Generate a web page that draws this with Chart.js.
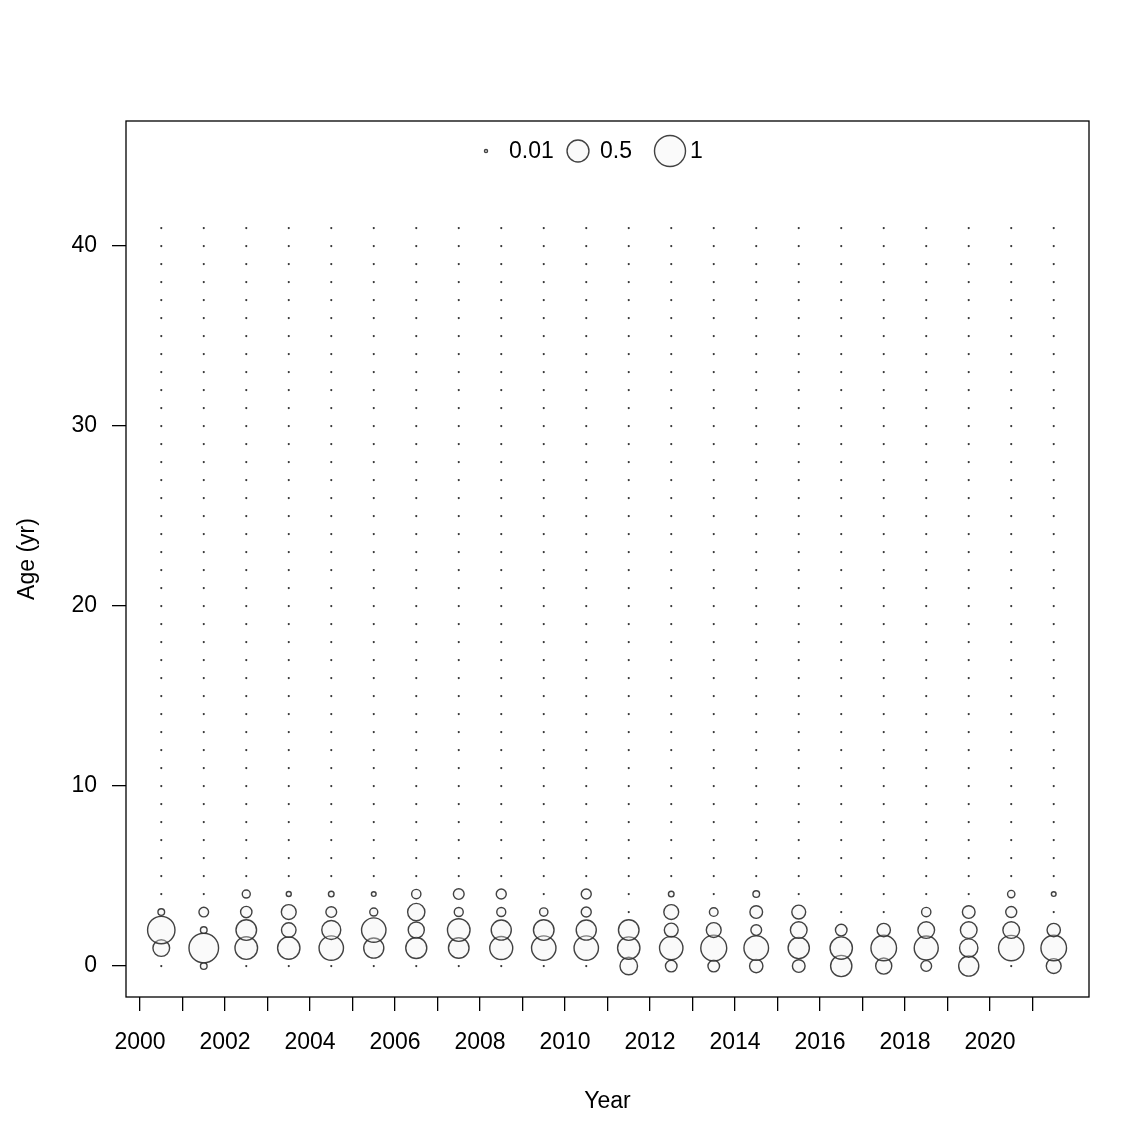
<!DOCTYPE html>
<html>
<head>
<meta charset="utf-8">
<script src="https://cdn.jsdelivr.net/npm/chart.js@4/dist/chart.umd.min.js"></script>
<style>
  html, body { margin: 0; padding: 0; background: #fff; }
  canvas { display: block; }
</style>
</head>
<body>
<canvas id="bubbles" width="1137" height="1139"></canvas>
<script>
const years = [2000, 2001, 2002, 2003, 2004, 2005, 2006, 2007, 2008, 2009, 2010,
               2011, 2012, 2013, 2014, 2015, 2016, 2017, 2018, 2019, 2020, 2021];
const propAge0 = [0, 0.046, 0, 0, 0, 0, 0, 0, 0, 0, 0,
                  0.32, 0.14, 0.14, 0.185, 0.167, 0.47, 0.27, 0.12, 0.42, 0, 0.23];
const propAge1 = [0.29, 0.91, 0.53, 0.52, 0.62, 0.42, 0.46, 0.44, 0.55, 0.62, 0.62,
                  0.52, 0.57, 0.70, 0.63, 0.47, 0.52, 0.68, 0.60, 0.35, 0.67, 0.68];
const propAge2 = [0.78, 0.046, 0.44, 0.22, 0.375, 0.62, 0.27, 0.53, 0.42, 0.44, 0.42,
                  0.44, 0.20, 0.23, 0.12, 0.29, 0.14, 0.185, 0.29, 0.29, 0.29, 0.185];
const propAge3 = [0.046, 0.097, 0.134, 0.23, 0.12, 0.067, 0.31, 0.084, 0.084, 0.072, 0.104,
                  0, 0.23, 0.078, 0.167, 0.20, 0, 0, 0.09, 0.167, 0.126, 0];
const propAge4 = [0, 0, 0.067, 0.026, 0.033, 0.023, 0.09, 0.12, 0.104, 0, 0.104,
                  0, 0.033, 0, 0.046, 0, 0, 0, 0, 0, 0.056, 0.023];
const maxAge = 41;
const legendValues = [0.01, 0.5, 1];
const xTicks = [2000, 2001, 2002, 2003, 2004, 2005, 2006, 2007, 2008, 2009, 2010,
                2011, 2012, 2013, 2014, 2015, 2016, 2017, 2018, 2019, 2020, 2021];
const yTicks = [0, 10, 20, 30, 40];

const FONT = '"Liberation Sans", Arial, sans-serif';
const byAge = [propAge0, propAge1, propAge2, propAge3, propAge4];
const RING = 'rgba(45,45,45,0.9)';
const FILL = 'rgba(240,240,240,0.35)';

// bubble radius ~ sqrt(proportion)
const radiusOf = v => 15.5 * Math.sqrt(v);

const bubbles = [];
const zeros = [];
years.forEach((yr, i) => {
  for (let a = 0; a <= maxAge; a++) {
    const v = a < byAge.length ? byAge[a][i] : 0;
    if (v > 0) bubbles.push({ x: yr + 0.5, y: a, v: v });
    else zeros.push({ x: yr + 0.5, y: a });
  }
});

const boxPlugin = {
  id: 'box',
  afterDraw(chart) {
    const { ctx, chartArea: c } = chart;
    ctx.save();
    ctx.strokeStyle = '#000';
    ctx.lineWidth = 1.3;
    ctx.strokeRect(c.left, c.top, c.right - c.left, c.bottom - c.top);

    // size legend at the top of the panel
    const cy = 151;
    const items = [{ x: 486, tx: 509 }, { x: 578, tx: 600 }, { x: 670, tx: 690 }];
    ctx.font = '23px ' + FONT;
    ctx.textBaseline = 'middle';
    ctx.textAlign = 'left';
    legendValues.forEach((v, k) => {
      ctx.beginPath();
      ctx.arc(items[k].x, cy, radiusOf(v), 0, Math.PI * 2);
      ctx.fillStyle = FILL;
      ctx.fill();
      ctx.strokeStyle = RING;
      ctx.lineWidth = 1.4;
      ctx.stroke();
      ctx.fillStyle = '#000';
      ctx.fillText(String(v), items[k].tx, cy + 1);
    });
    ctx.restore();
  }
};

new Chart(document.getElementById('bubbles'), {
  type: 'scatter',
  data: {
    datasets: [
      {
        label: 'zero',
        data: zeros,
        pointRadius: 1.1,
        pointBackgroundColor: '#333',
        pointBorderWidth: 0
      },
      {
        label: 'proportion',
        data: bubbles,
        pointRadius: ctx => radiusOf(ctx.raw.v),
        pointBackgroundColor: FILL,
        pointBorderColor: RING,
        pointBorderWidth: 1.4
      }
    ]
  },
  options: {
    responsive: false,
    animation: false,
    layout: { padding: { left: 0, top: 121, right: 48, bottom: 0 } },
    plugins: { legend: { display: false }, tooltip: { enabled: false } },
    scales: {
      x: {
        type: 'linear',
        min: 1999.67,
        max: 2022.33,
        afterBuildTicks: s => { s.ticks = xTicks.map(v => ({ value: v })); },
        afterFit: s => { s.height = 142; },
        border: { display: false },
        grid: { drawOnChartArea: false, drawTicks: true, tickLength: 14, color: '#000', lineWidth: 1.3 },
        ticks: {
          autoSkip: false,
          maxRotation: 0,
          padding: 18,
          color: '#000',
          font: { family: FONT, size: 23 },
          callback: v => (v % 2 === 0 ? String(v) : '')
        },
        title: {
          display: true,
          text: 'Year',
          color: '#000',
          font: { family: FONT, size: 23 },
          padding: { top: 0, bottom: 24 }
        }
      },
      y: {
        type: 'linear',
        min: -1.72,
        max: 46.95,
        afterBuildTicks: s => { s.ticks = yTicks.map(v => ({ value: v })); },
        afterFit: s => { s.width = 126; },
        border: { display: false },
        grid: { drawOnChartArea: false, drawTicks: true, tickLength: 14, color: '#000', lineWidth: 1.3 },
        ticks: {
          padding: 15,
          color: '#000',
          font: { family: FONT, size: 23 },
          callback: v => String(v)
        },
        title: {
          display: true,
          text: 'Age (yr)',
          color: '#000',
          font: { family: FONT, size: 23 },
          padding: { top: 14, bottom: 0 }
        }
      }
    }
  },
  plugins: [boxPlugin]
});
</script>
</body>
</html>
